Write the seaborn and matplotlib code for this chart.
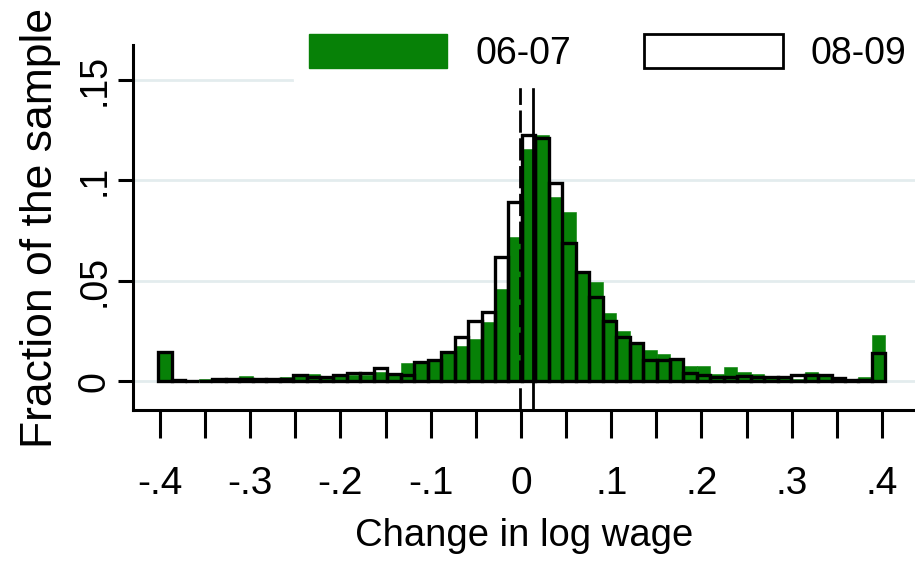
import numpy as np
import pandas as pd
import matplotlib
matplotlib.use("Agg")
import matplotlib.pyplot as plt
from matplotlib.patches import Patch
import seaborn as sns


# Histogram of log wage changes, fraction of sample per bin (54 bins)
bin_start = -0.4017
bin_width = 0.014917

frac_0607 = [0.014, 0.0, 0.0, 0.001, 0.0008, 0.001, 0.0025, 0.001, 0.001, 0.002,
             0.003, 0.0035, 0.0018, 0.0035, 0.0028, 0.0028, 0.0045, 0.003, 0.009, 0.009,
             0.010, 0.0143, 0.0175, 0.021, 0.0295, 0.0458, 0.072, 0.1154, 0.1225, 0.0916,
             0.0842, 0.054, 0.0494, 0.0337, 0.0247, 0.0188, 0.0156, 0.0133, 0.011, 0.0075,
             0.0075, 0.0037, 0.007, 0.0046, 0.0035, 0.0025, 0.0021, 0.0012, 0.0046, 0.0025,
             0.0018, 0.0, 0.0018, 0.0229]

frac_0809 = [0.0145, 0.0003, 0.0, 0.0, 0.001, 0.001, 0.001, 0.001, 0.0012, 0.001,
             0.003, 0.002, 0.002, 0.003, 0.0041, 0.0041, 0.0063, 0.0035, 0.003, 0.0095,
             0.0104, 0.0146, 0.022, 0.030, 0.0345, 0.0618, 0.089, 0.1224, 0.121, 0.0987,
             0.0686, 0.0545, 0.042, 0.0297, 0.022, 0.0188, 0.0104, 0.0104, 0.011, 0.004,
             0.003, 0.002, 0.002, 0.0025, 0.0018, 0.0018, 0.0018, 0.003, 0.003, 0.003,
             0.0015, 0.0007, 0.0005, 0.0138]

# vertical reference lines
line_0809 = -0.001
line_0607 = 0.013

xtick_pos = [-0.4, -0.35, -0.3, -0.25, -0.2, -0.15, -0.1, -0.05, 0.0,
             0.05, 0.1, 0.15, 0.2, 0.25, 0.3, 0.35, 0.4]
xtick_labels = ["-.4", "", "-.3", "", "-.2", "", "-.1", "", "0",
                "", ".1", "", ".2", "", ".3", "", ".4"]
ytick_pos = [0, 0.05, 0.1, 0.15]
ytick_labels = ["0", ".05", ".1", ".15"]

green = "#078107"

edges = (bin_start + bin_width * np.arange(len(frac_0607) + 1)).tolist()
df = pd.DataFrame({
    "mid": [e + bin_width / 2 for e in edges[:-1]],
    "f0607": frac_0607,
    "f0809": frac_0809,
})

sns.set_style("white")
plt.rcParams["font.family"] = ["Liberation Sans", "DejaVu Sans"]
plt.rcParams["text.color"] = "black"
plt.rcParams["axes.labelcolor"] = "black"

fig = plt.figure(figsize=(9.15, 5.61), dpi=100)
ax = fig.add_axes([133 / 915, 1 - 410 / 561, 1 - 133 / 915, (410 - 45) / 561])

ax.yaxis.grid(True, color="#e3ecee", lw=2)
ax.set_axisbelow(True)

sns.histplot(data=df, x="mid", weights="f0607", bins=edges, stat="count",
             color=green, edgecolor=green, linewidth=0.4, alpha=1, ax=ax)
sns.histplot(data=df, x="mid", weights="f0809", bins=edges, stat="count",
             fill=False, color="black", linewidth=2.4, ax=ax)

ax.axvline(line_0809, color="black", lw=2, ls=(0, (8, 2)), zorder=5)
ax.axvline(line_0607, color="black", lw=2, zorder=5)

ax.set_xlim(-0.4299, 0.4366)
ax.set_ylim(-0.0144, 0.1674)

ax.set_xticks(xtick_pos, labels=xtick_labels)
ax.set_yticks(ytick_pos, labels=ytick_labels)
ax.tick_params(axis="x", direction="out", length=20, width=2.2, pad=20,
               labelsize=28, colors="black", bottom=True)
ax.tick_params(axis="y", direction="out", length=11, width=2.2, pad=4,
               labelsize=27, labelrotation=90, colors="black", left=True)
for lbl in ax.get_yticklabels():
    lbl.set_va("center")

for s in ["top", "right"]:
    ax.spines[s].set_visible(False)
for s in ["left", "bottom"]:
    ax.spines[s].set_linewidth(2.2)
    ax.spines[s].set_color("black")

ax.set_xlabel("Change in log wage", fontsize=27.5, labelpad=12)
ax.set_ylabel("Fraction of the sample", fontsize=32, labelpad=11)

handles = [Patch(facecolor=green, edgecolor=green),
           Patch(facecolor="white", edgecolor="black", linewidth=2)]
ax.legend(handles, ["06-07", "08-09"], ncol=2, loc="center",
          bbox_to_anchor=(0.664, 0.9055), bbox_transform=fig.transFigure,
          fontsize=27, handlelength=3.7, handleheight=1.0, handletextpad=0.74,
          columnspacing=1.95, frameon=True, facecolor="white", edgecolor="white",
          framealpha=1, borderpad=0.4, borderaxespad=0)

fig.savefig("out.png", dpi=100)
